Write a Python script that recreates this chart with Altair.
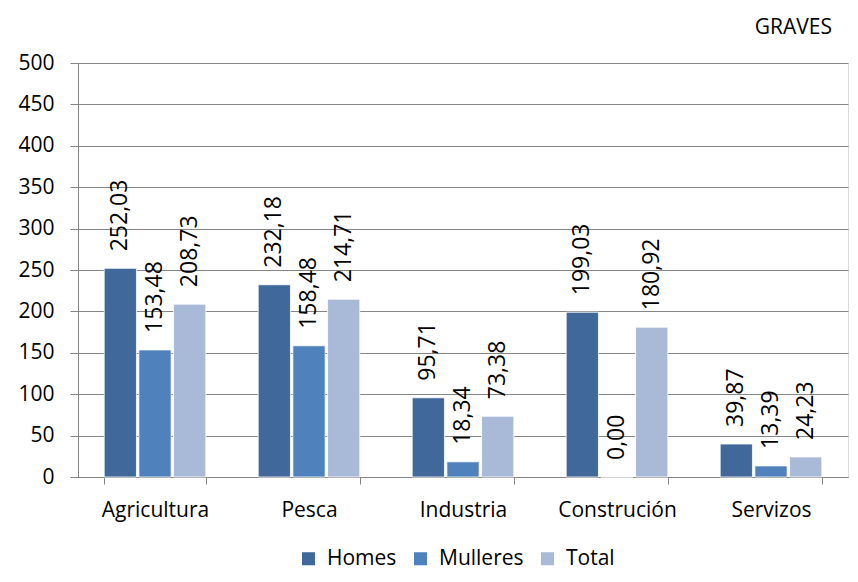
import altair as alt
import pandas as pd

categories = ["Agricultura", "Pesca", "Industria", "Construción", "Servizos"]
series = ["Homes", "Mulleres", "Total"]
homes = [252.03, 232.18, 95.71, 199.03, 39.87]
mulleres = [153.48, 158.48, 18.34, 0.00, 13.39]
total = [208.73, 214.71, 73.38, 180.92, 24.23]
colors = ["#41689A", "#4F81BD", "#A9BAD8"]

rows = []
for i, c in enumerate(categories):
    for s, vals in zip(series, [homes, mulleres, total]):
        rows.append({"cat": c, "serie": s, "valor": vals[i],
                     "label": f"{vals[i]:.2f}".replace(".", ",")})
df = pd.DataFrame(rows)

FONT = "Open Sans"

x = alt.X("cat:N", sort=categories, title=None,
          scale=alt.Scale(paddingInner=0.34, paddingOuter=0.17),
          axis=alt.Axis(labelAngle=0, labelFontSize=21, labelFont=FONT, labelColor="#000000",
                        labelPadding=15, tickBand="extent", tickSize=7, tickColor="#868686",
                        domainColor="#868686", grid=False))
xo = alt.XOffset("serie:N", sort=series, scale=alt.Scale(paddingInner=0.07, paddingOuter=0))
y = alt.Y("valor:Q", title=None,
          scale=alt.Scale(domain=[0, 500], nice=False),
          axis=alt.Axis(values=list(range(0, 501, 50)), labelFontSize=21, labelFont=FONT,
                        labelColor="#000000", labelPadding=16, tickSize=8, tickColor="#868686",
                        domainColor="#868686", gridColor="#868686", gridWidth=1))
color = alt.Color("serie:N", sort=series,
                  scale=alt.Scale(domain=series, range=colors),
                  legend=alt.Legend(orient="none", legendX=220, legendY=485,
                                    direction="horizontal", title=None, padding=0,
                                    labelFontSize=21, labelFont=FONT, labelColor="#000000",
                                    symbolType="square", symbolSize=170, symbolStrokeWidth=0,
                                    columnPadding=13, labelOffset=8))

bars = alt.Chart(df).mark_bar(stroke="white", strokeWidth=0.8).encode(
    x=x, xOffset=xo, y=y, color=color)

labels = alt.Chart(df).mark_text(angle=270, align="left", baseline="middle",
                                 fontSize=23, font=FONT, color="#000000", dx=17).encode(
    x=alt.X("cat:N", sort=categories), xOffset=xo, y="valor:Q", text="label:N")

chart = alt.layer(bars, labels).properties(
    width=770, height=414,
    autosize=alt.AutoSizeParams(type="none"),
    padding={"left": 70, "top": 55, "right": 2, "bottom": 96},
    title=alt.TitleParams("GRAVES", anchor="end", frame="group", fontSize=21, font=FONT,
                          fontWeight="normal", color="#000000", dx=-16, offset=14),
).configure_view(stroke=None).configure(background="white")

chart.save("out.html", embed_options={"renderer": "svg", "actions": False})
